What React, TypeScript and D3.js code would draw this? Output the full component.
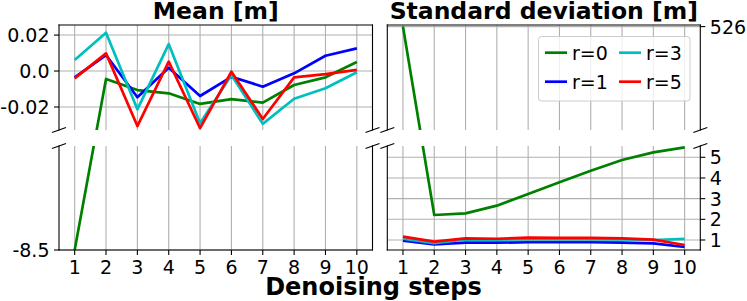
import React, { useEffect, useRef } from 'react';
import * as d3 from 'd3';

// denoising steps on the x axis
const steps = [1, 2, 3, 4, 5, 6, 7, 8, 9, 10];
const seriesNames = ['r=0', 'r=1', 'r=3', 'r=5'];
const seriesColors = ['#008000', '#0000ff', '#00bfbf', '#ff0000'];

// Mean [m]
const meanR0 = [-8.5, -0.0044, -0.0106, -0.0124, -0.0183, -0.0156, -0.0176, -0.0078, -0.0035, 0.005];
const meanR1 = [-0.0035, 0.0089, -0.0146, 0.0018, -0.0139, -0.0032, -0.0087, -0.0013, 0.0085, 0.0126];
const meanR3 = [0.0061, 0.0213, -0.0213, 0.015, -0.029, -0.0022, -0.0294, -0.0154, -0.0096, -0.0007];
const meanR5 = [-0.0041, 0.0098, -0.0306, 0.0052, -0.0318, -0.0004, -0.0267, -0.0035, -0.0017, 0.0006];

// Standard deviation [m]
const stdR0 = [526, 2.21, 2.29, 2.66, 3.23, 3.79, 4.35, 4.87, 5.24, 5.48];
const stdR1 = [0.97, 0.79, 0.87, 0.87, 0.89, 0.89, 0.89, 0.87, 0.84, 0.66];
const stdR3 = [1.06, 0.85, 1.03, 1.02, 1.03, 1.03, 1.03, 1.03, 1.0, 1.05];
const stdR5 = [1.16, 0.92, 1.08, 1.06, 1.11, 1.1, 1.1, 1.08, 1.02, 0.76];

// tick labels
const meanTopTicks = [0.02, 0.0, -0.02];
const meanTopTickLabels = ['0.02', '0.0', '-0.02'];
const meanBottomTicks = [-8.5];
const stdTopTicks = [526];
const stdBottomTicks = [1, 2, 3, 4, 5];

const FONT = 'DejaVu Sans';

const App = () => {
  const svgRef = useRef(null);

  useEffect(() => {
    const svg = d3.select(svgRef.current);
    svg.selectAll('*').remove();

    const width = 747;
    const height = 301;
    svg.attr('width', width).attr('height', height);

    const topY = [25, 130];
    const botY = [146, 250];
    const tickLen = 5;

    const panels = [
      {
        id: 'mean',
        x0: 59, x1: 372.5,
        title: 'Mean [m]',
        series: [meanR0, meanR1, meanR3, meanR5],
        // piecewise scale across the broken axis
        yAll: d3.scaleLinear().domain([-8.5, -2.5, -0.0328, 0.0256]).range([botY[1], botY[0], topY[1], topY[0]]),
        topTicks: meanTopTicks,
        topLabels: meanTopTickLabels,
        botTicks: meanBottomTicks,
        botLabels: meanBottomTicks.map((d) => d.toFixed(1)),
        side: 'left',
      },
      {
        id: 'std',
        x0: 387.3, x1: 700.3,
        title: 'Standard deviation [m]',
        series: [stdR0, stdR1, stdR3, stdR5],
        yAll: d3.scaleLinear().domain([0.516, 5.547, 6, 534]).range([botY[1], botY[0], topY[1], topY[0]]),
        topTicks: stdTopTicks,
        topLabels: stdTopTicks.map(String),
        botTicks: stdBottomTicks,
        botLabels: stdBottomTicks.map(String),
        side: 'right',
      },
    ];

    panels.forEach((p) => {
      const x = d3.scaleLinear().domain([0.5, 10.5]).range([p.x0, p.x1]);
      const y = p.yAll;
      const g = svg.append('g');

      // clip rects for both halves
      const defs = svg.append('defs');
      defs.append('clipPath').attr('id', `${p.id}-top`)
        .append('rect').attr('x', p.x0).attr('y', topY[0]).attr('width', p.x1 - p.x0).attr('height', topY[1] - topY[0]);
      defs.append('clipPath').attr('id', `${p.id}-bot`)
        .append('rect').attr('x', p.x0).attr('y', botY[0]).attr('width', p.x1 - p.x0).attr('height', botY[1] - botY[0]);

      // grid
      [topY, botY].forEach((yr) => {
        g.selectAll(null).data(steps).join('line')
          .attr('x1', (d) => x(d)).attr('x2', (d) => x(d))
          .attr('y1', yr[0]).attr('y2', yr[1])
          .attr('stroke', '#b0b0b0').attr('stroke-width', 1.1);
      });
      g.selectAll(null).data([...p.topTicks, ...p.botTicks]).join('line')
        .attr('x1', p.x0).attr('x2', p.x1)
        .attr('y1', (d) => y(d)).attr('y2', (d) => y(d))
        .attr('stroke', '#b0b0b0').attr('stroke-width', 1.1);

      // lines
      const line = d3.line()
        .x((d, i) => x(steps[i]))
        .y((d) => y(d));
      ['top', 'bot'].forEach((part) => {
        const lg = g.append('g').attr('clip-path', `url(#${p.id}-${part})`);
        p.series.forEach((s, si) => {
          lg.append('path')
            .attr('d', line(s))
            .attr('fill', 'none')
            .attr('stroke', seriesColors[si])
            .attr('stroke-width', 2.7)
            .attr('stroke-linejoin', 'round');
        });
      });

      // spines
      const spine = (x1, y1, x2, y2) => g.append('line')
        .attr('x1', x1).attr('y1', y1).attr('x2', x2).attr('y2', y2)
        .attr('stroke', '#000').attr('stroke-width', 1.1).attr('stroke-linecap', 'square');
      spine(p.x0, topY[0], p.x1, topY[0]);
      spine(p.x0, topY[0], p.x0, topY[1]);
      spine(p.x1, topY[0], p.x1, topY[1]);
      spine(p.x0, botY[0], p.x0, botY[1]);
      spine(p.x1, botY[0], p.x1, botY[1]);
      spine(p.x0, botY[1], p.x1, botY[1]);

      // break marks
      [p.x0, p.x1].forEach((bx) => {
        [topY[1], botY[0]].forEach((by) => {
          g.append('line')
            .attr('x1', bx - 7).attr('y1', by + 2.5)
            .attr('x2', bx + 7).attr('y2', by - 2.5)
            .attr('stroke', '#000').attr('stroke-width', 1.1);
        });
      });

      // x ticks
      g.selectAll(null).data(steps).join('line')
        .attr('x1', (d) => x(d)).attr('x2', (d) => x(d))
        .attr('y1', botY[1]).attr('y2', botY[1] + tickLen)
        .attr('stroke', '#000').attr('stroke-width', 1.1);
      g.selectAll(null).data(steps).join('text')
        .attr('x', (d) => x(d)).attr('y', 274)
        .attr('text-anchor', 'middle')
        .style('font-family', FONT).style('font-size', '19px')
        .text((d) => d);

      // y ticks
      const yTicks = [
        ...p.topTicks.map((d, i) => ({ v: d, label: p.topLabels[i] })),
        ...p.botTicks.map((d, i) => ({ v: d, label: p.botLabels[i] })),
      ];
      const sx = p.side === 'left' ? p.x0 : p.x1;
      const dir = p.side === 'left' ? -1 : 1;
      g.selectAll(null).data(yTicks).join('line')
        .attr('x1', sx).attr('x2', sx + dir * tickLen)
        .attr('y1', (d) => y(d.v)).attr('y2', (d) => y(d.v))
        .attr('stroke', '#000').attr('stroke-width', 1.1);
      g.selectAll(null).data(yTicks).join('text')
        .attr('x', sx + dir * (tickLen + 4.5))
        .attr('y', (d) => y(d.v) + 7)
        .attr('text-anchor', p.side === 'left' ? 'end' : 'start')
        .style('font-family', FONT).style('font-size', '19px')
        .text((d) => d.label);

      // title
      g.append('text')
        .attr('x', (p.x0 + p.x1) / 2).attr('y', 18.5)
        .attr('text-anchor', 'middle')
        .style('font-family', FONT).style('font-size', '23.5px').style('font-weight', 'bold')
        .text(p.title);
    });

    // legend
    const lg = svg.append('g');
    lg.append('rect')
      .attr('x', 538.5).attr('y', 36.5).attr('width', 151.5).attr('height', 64.5).attr('rx', 3)
      .attr('fill', 'rgba(255,255,255,0.8)').attr('stroke', '#cccccc').attr('stroke-width', 1);
    const legendPos = [
      { lx: 545, ty: 52.7 }, { lx: 545, ty: 81.7 },
      { lx: 619, ty: 52.7 }, { lx: 619, ty: 81.7 },
    ];
    seriesNames.forEach((name, i) => {
      const pos = legendPos[i];
      lg.append('line')
        .attr('x1', pos.lx).attr('x2', pos.lx + 22)
        .attr('y1', pos.ty).attr('y2', pos.ty)
        .attr('stroke', seriesColors[i]).attr('stroke-width', 2.7);
      lg.append('text')
        .attr('x', pos.lx + 27).attr('y', pos.ty + 7)
        .style('font-family', FONT).style('font-size', '19px')
        .text(name);
    });

    // x label
    svg.append('text')
      .attr('x', 373.5).attr('y', 294.5)
      .attr('text-anchor', 'middle')
      .style('font-family', FONT).style('font-size', '24px').style('font-weight', 'bold')
      .text('Denoising steps');
  }, []);

  return <svg ref={svgRef} style={{ position: 'absolute', left: 0, top: 0 }} />;
};

export default App;
